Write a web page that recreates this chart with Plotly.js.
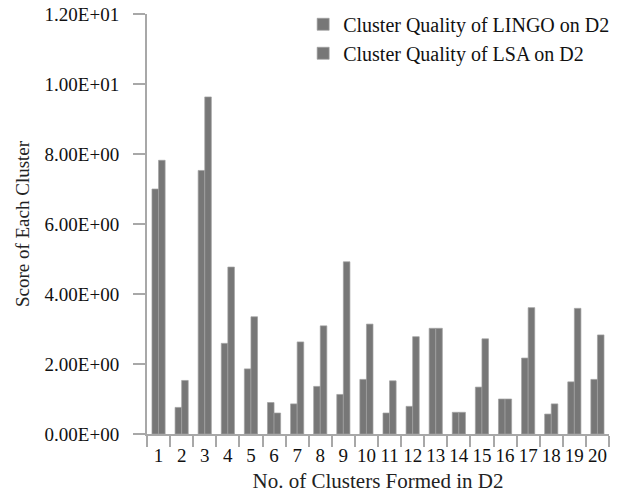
<!DOCTYPE html>
<html>
<head>
<meta charset="utf-8">
<script src="https://cdn.plot.ly/plotly-3.0.1.min.js"></script>
<style>html,body{margin:0;padding:0;background:#fff;}#chart{width:618px;height:494px;}</style>
</head>
<body>
<div id="chart"></div>
<script>
const categories = ["1","2","3","4","5","6","7","8","9","10","11","12","13","14","15","16","17","18","19","20"];
const lingo = [7.0, 0.76, 7.53, 2.59, 1.86, 0.90, 0.86, 1.36, 1.13, 1.56, 0.60, 0.79, 3.02, 0.62, 1.34, 1.0, 2.17, 0.57, 1.49, 1.56];
const lsa   = [7.82, 1.53, 9.63, 4.77, 3.35, 0.60, 2.63, 3.09, 4.92, 3.14, 1.52, 2.78, 3.02, 0.62, 2.72, 1.0, 3.61, 0.86, 3.59, 2.83];
const yTickVals = [0, 2, 4, 6, 8, 10, 12];
const yTickText = ["0.00E+00","2.00E+00","4.00E+00","6.00E+00","8.00E+00","1.00E+01","1.20E+01"];
const seriesNames = ["Cluster Quality of LINGO on D2", "Cluster Quality of LSA on D2"];

const font = "Liberation Serif, Times New Roman, serif";
const barStyle = {color: "#777777", line: {color: "#a0a0a0", width: 0.7}};

const data = [
  {type: "bar", name: seriesNames[0], x: categories, y: lingo, marker: barStyle},
  {type: "bar", name: seriesNames[1], x: categories, y: lsa, marker: barStyle}
];

const layout = {
  width: 618, height: 494,
  margin: {l: 147, r: 9, t: 14, b: 60, autoexpand: false},
  paper_bgcolor: "#fff", plot_bgcolor: "#fff",
  font: {family: font, color: "#111", size: 19},
  barmode: "group", bargap: 0.43, bargroupgap: 0,
  showlegend: true,
  legend: {x: 0.338, xanchor: "left", y: 1.022, yanchor: "top", bgcolor: "rgba(0,0,0,0)",
           font: {family: font, size: 20, color: "#111"}, tracegroupgap: 0, itemwidth: 30},
  xaxis: {
    type: "category", showline: true, linecolor: "#a8a8a8", linewidth: 2,
    ticks: "outside", ticklen: 11, tickcolor: "#a8a8a8", tickwidth: 2, tickson: "boundaries",
    tickangle: 0, tickmode: "array", tickvals: categories, ticktext: categories,
    ticklabelstandoff: 3,
    showgrid: false, zeroline: false, fixedrange: true,
    tickfont: {family: font, size: 19, color: "#111"},
    title: {text: "No. of Clusters Formed in D2", font: {family: font, size: 21, color: "#222"}, standoff: 9}
  },
  yaxis: {
    range: [0, 12], showline: true, linecolor: "#a8a8a8", linewidth: 2,
    ticks: "outside", ticklen: 12, tickcolor: "#a8a8a8", tickwidth: 2,
    ticklabelstandoff: 10,
    tickvals: yTickVals, ticktext: yTickText,
    showgrid: false, zeroline: false, fixedrange: true,
    tickfont: {family: font, size: 19, color: "#111"},
    title: {text: "Score of Each Cluster", font: {family: font, size: 19, color: "#222"}, standoff: 10}
  }
};

Plotly.newPlot("chart", data, layout, {displayModeBar: false, staticPlot: true});
</script>
</body>
</html>
